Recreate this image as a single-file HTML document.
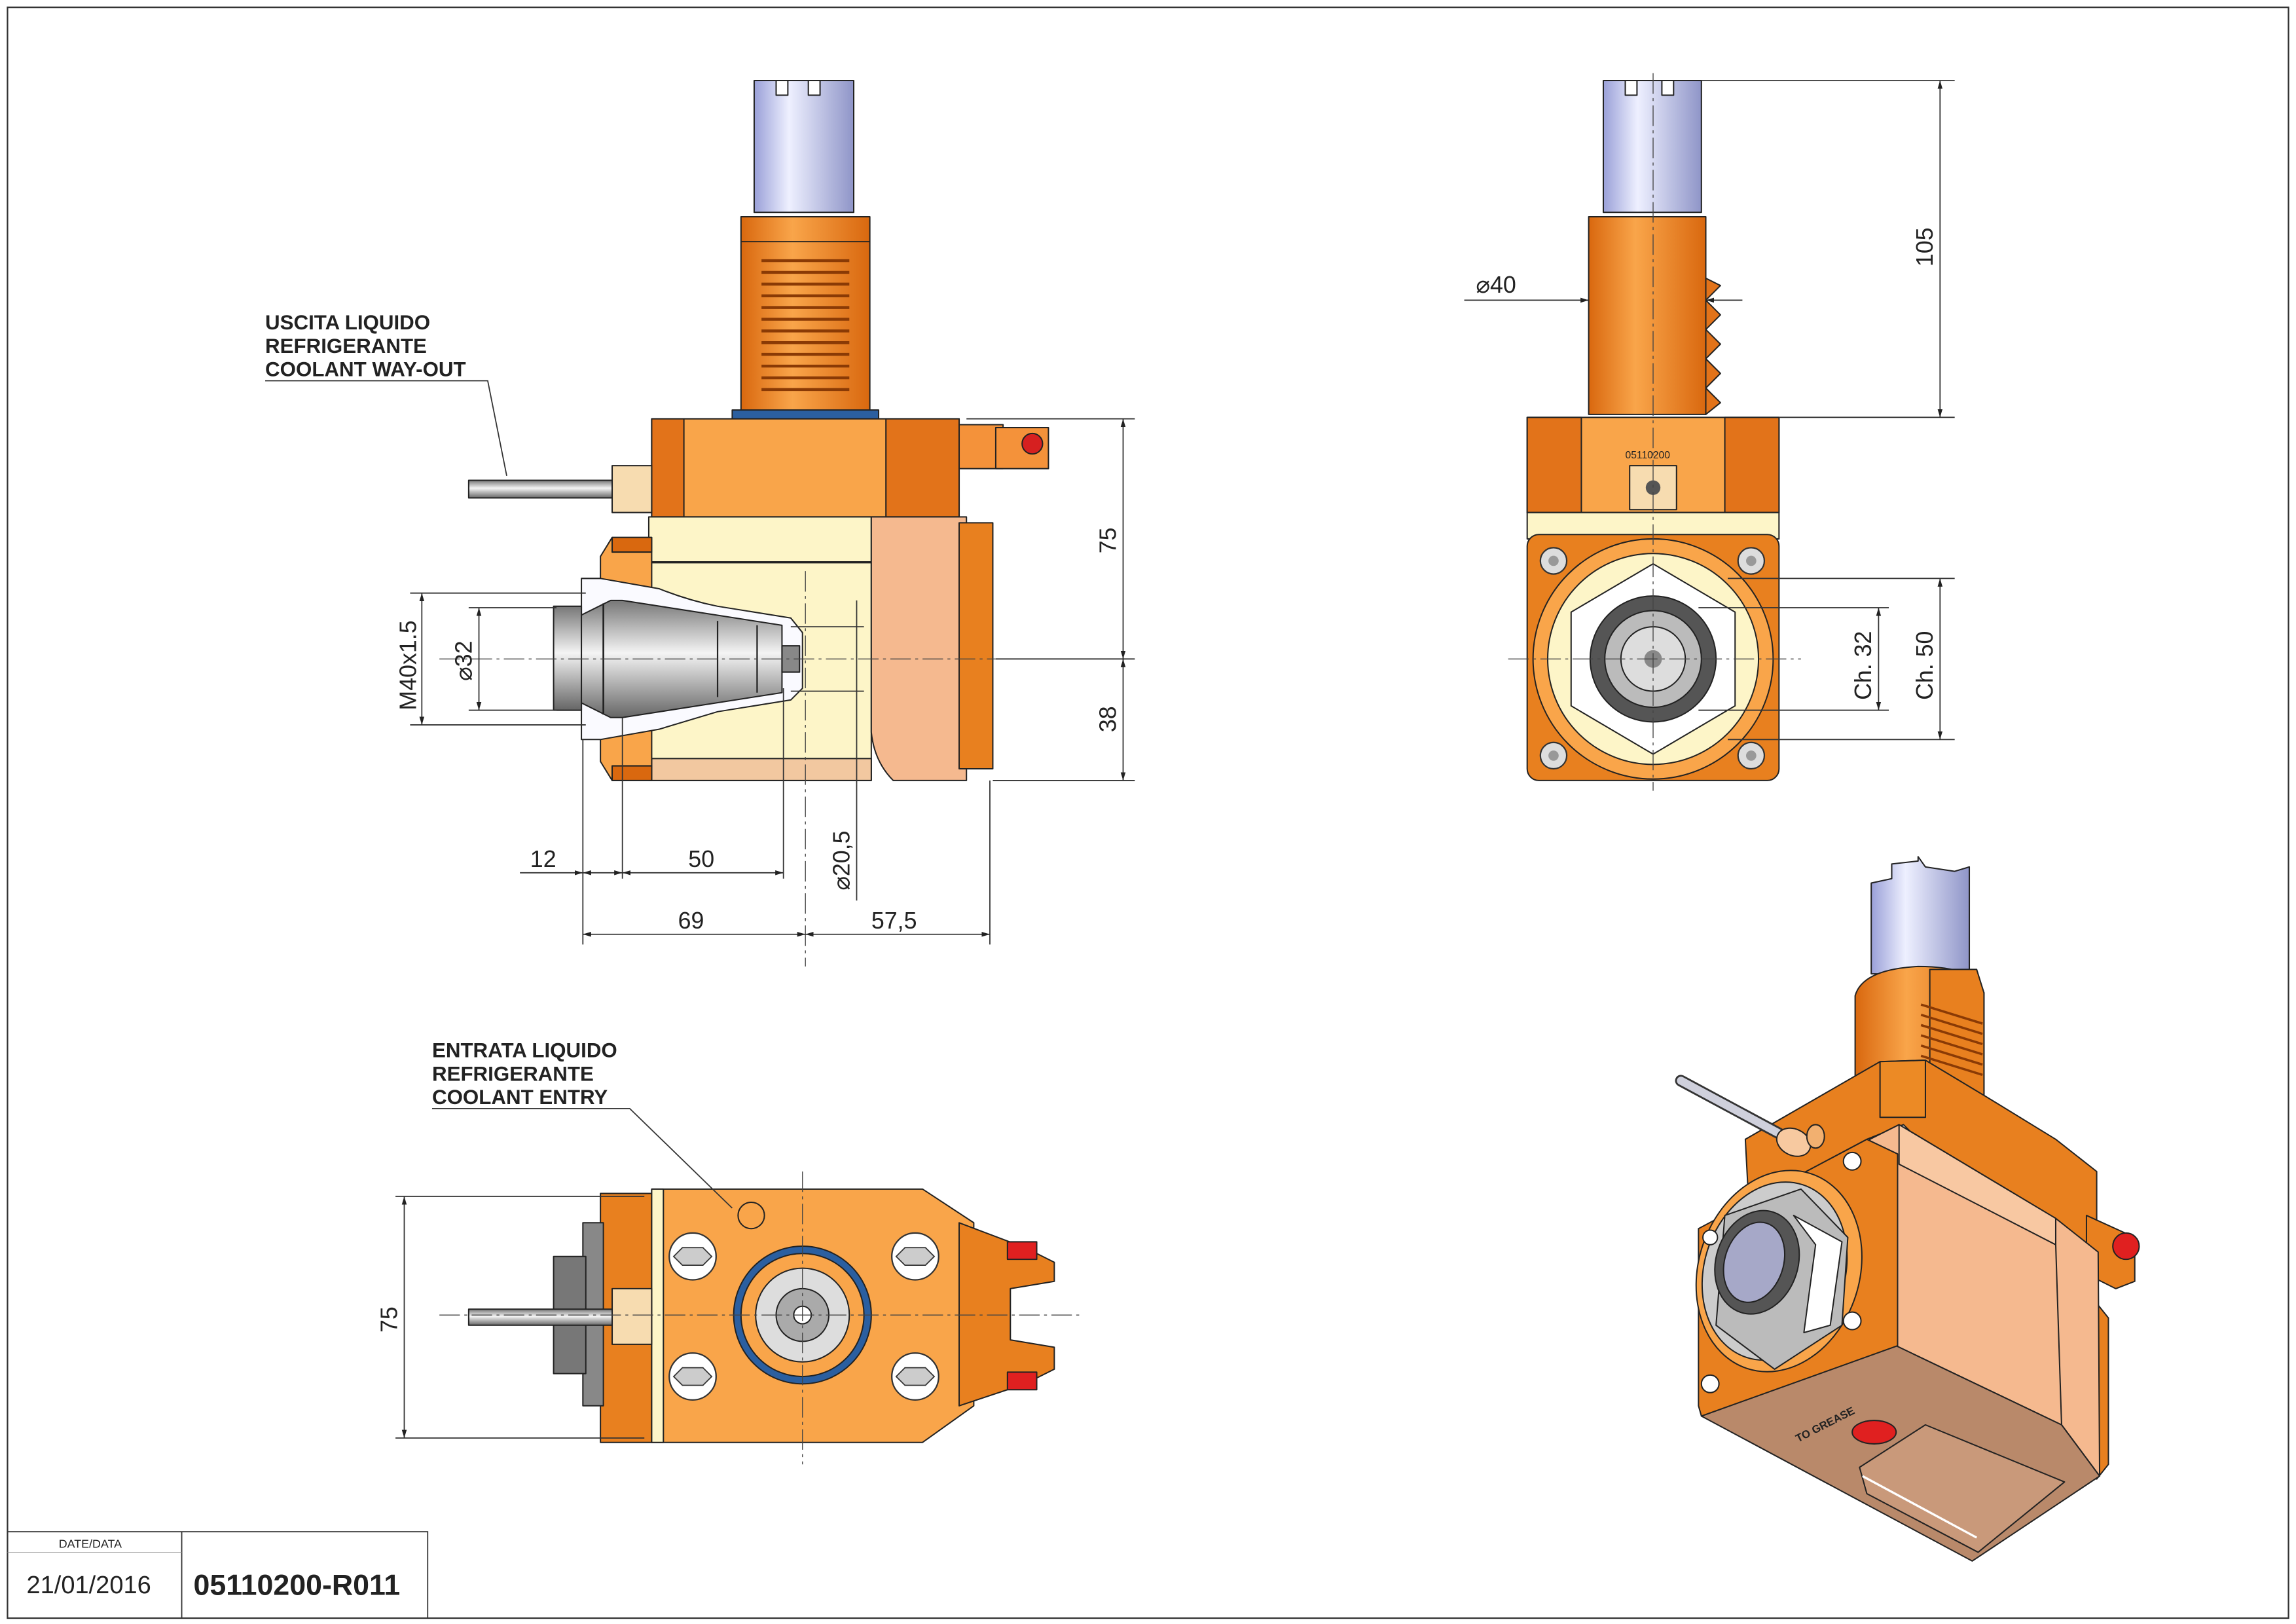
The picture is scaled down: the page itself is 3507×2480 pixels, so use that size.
<!DOCTYPE html>
<html><head><meta charset="utf-8"><style>
html,body{margin:0;padding:0;background:#fff;}
svg{display:block;}
text{font-family:"Liberation Sans",sans-serif;fill:#222;}
.d{stroke:#333;stroke-width:0.8;fill:none;}
.c{stroke:#444;stroke-width:0.6;fill:none;stroke-dasharray:14 3 2 3;}
.o{stroke:#222;stroke-width:0.9;stroke-linejoin:round;}
</style></head><body>
<svg width="3507" height="2480" viewBox="0 0 1568 1109" xmlns="http://www.w3.org/2000/svg">
<defs>
<marker id="a" viewBox="0 0 10 10" refX="10" refY="5" markerWidth="7" markerHeight="7" orient="auto-start-reverse"><path d="M0,2 L10,5 L0,8z" fill="#222"/></marker>
<linearGradient id="sh" x1="0" x2="1"><stop offset="0" stop-color="#9aa0d8"/><stop offset="0.35" stop-color="#eef0ff"/><stop offset="1" stop-color="#8f95c8"/></linearGradient>
<linearGradient id="ng" x1="0" x2="1"><stop offset="0" stop-color="#d9680f"/><stop offset="0.4" stop-color="#f9a54a"/><stop offset="1" stop-color="#d9680f"/></linearGradient>
<linearGradient id="cg" x1="0" x2="0" y1="0" y2="1"><stop offset="0" stop-color="#777"/><stop offset="0.45" stop-color="#f4f4f4"/><stop offset="1" stop-color="#666"/></linearGradient>
</defs>
<rect width="1568" height="1109" fill="#fff"/>
<rect x="5" y="5" width="1558" height="1100" fill="none" stroke="#333" stroke-width="1"/>

<!-- title block -->
<rect x="5" y="1046" width="287" height="59" fill="none" stroke="#333" stroke-width="0.8"/>
<line x1="124" y1="1046" x2="124" y2="1105" stroke="#333" stroke-width="0.8"/>
<line x1="5" y1="1060" x2="124" y2="1060" stroke="#999" stroke-width="0.4"/>
<text x="40" y="1057" font-size="8">DATE/DATA</text>
<text x="18" y="1088" font-size="17">21/01/2016</text>
<text x="132" y="1089" font-size="20" font-weight="bold">05110200-R011</text>

<!-- ============ FRONT VIEW ============ -->
<rect x="515" y="55" width="68" height="90" fill="url(#sh)" class="o"/>
<rect x="530" y="55" width="8" height="10" fill="#fff" class="o"/><rect x="552" y="55" width="8" height="10" fill="#fff" class="o"/>
<rect x="506" y="148" width="88" height="135" fill="url(#ng)" class="o"/>
<line x1="506" y1="165" x2="594" y2="165" stroke="#222" stroke-width="0.8"/>
<g stroke="#8a3a05" stroke-width="2">
<line x1="520" y1="178" x2="580" y2="178"/><line x1="520" y1="186" x2="580" y2="186"/><line x1="520" y1="194" x2="580" y2="194"/><line x1="520" y1="202" x2="580" y2="202"/><line x1="520" y1="210" x2="580" y2="210"/><line x1="520" y1="218" x2="580" y2="218"/><line x1="520" y1="226" x2="580" y2="226"/><line x1="520" y1="234" x2="580" y2="234"/><line x1="520" y1="242" x2="580" y2="242"/><line x1="520" y1="250" x2="580" y2="250"/><line x1="520" y1="258" x2="580" y2="258"/><line x1="520" y1="266" x2="580" y2="266"/></g>
<rect x="500" y="280" width="100" height="6" fill="#2b5fa0" class="o"/>
<rect x="445" y="286" width="210" height="67" fill="#f9a54a" class="o"/>
<rect x="445" y="286" width="22" height="67" fill="#e2731a" class="o"/>
<rect x="605" y="286" width="50" height="67" fill="#e2731a" class="o"/>
<rect x="655" y="290" width="30" height="30" fill="#f4923a" class="o"/>
<rect x="680" y="292" width="36" height="28" fill="#f4923a" class="o"/>
<circle cx="705" cy="303" r="7" fill="#d62020" class="o"/>
<rect x="443" y="353" width="152" height="180" fill="#fdf5c8" class="o"/>
<line x1="445" y1="384" x2="595" y2="384" stroke="#222" stroke-width="1.5"/>
<rect x="445" y="518" width="150" height="15" fill="#f2c8a0" class="o"/>
<path d="M595,353 L660,353 L660,533 L610,533 Q597,520 595,500Z" fill="#f5b98f" class="o"/>
<rect x="655" y="357" width="23" height="168" fill="#e8801f" class="o"/>
<path d="M418,367 L445,367 L445,533 L418,533 L410,520 L410,380Z" fill="#f9a54a" class="o"/>
<rect x="418" y="367" width="27" height="10" fill="#d9680f" class="o"/><rect x="418" y="523" width="27" height="10" fill="#d9680f" class="o"/>
<path d="M397,395 L410,395 L450,402 Q470,410 490,414 L540,422 L548,432 L548,470 L540,478 L490,486 Q470,492 450,498 L410,505 L397,505Z" fill="#fafaff" class="o"/>
<rect x="378" y="414" width="19" height="71" fill="url(#cg)" class="o"/>
<path d="M397,420 L417,410 L425,410 L534,427 L534,473 L425,490 L417,490 L397,480Z" fill="url(#cg)" class="o"/>
<line x1="490" y1="424" x2="490" y2="476" stroke="#222" stroke-width="1"/>
<line x1="517" y1="427" x2="517" y2="473" stroke="#222" stroke-width="1"/>
<line x1="412" y1="412" x2="412" y2="488" stroke="#222" stroke-width="1.2"/>
<rect x="534" y="441" width="12" height="18" fill="#888" class="o"/>
<rect x="320" y="328" width="100" height="12" fill="url(#cg)" class="o"/>
<rect x="418" y="318" width="27" height="32" fill="#f7dcb0" class="o"/>
<line x1="300" y1="450" x2="700" y2="450" class="c"/>
<line x1="550" y1="390" x2="550" y2="660" class="c"/>
<!-- dims front -->
<line x1="660" y1="286" x2="775" y2="286" class="d"/><line x1="680" y1="450" x2="775" y2="450" class="d"/><line x1="678" y1="533" x2="775" y2="533" class="d"/>
<line x1="767" y1="286" x2="767" y2="450" class="d" marker-start="url(#a)" marker-end="url(#a)"/>
<line x1="767" y1="450" x2="767" y2="533" class="d" marker-start="url(#a)" marker-end="url(#a)"/>
<text transform="translate(762,378) rotate(-90)" font-size="16">75</text>
<text transform="translate(762,500) rotate(-90)" font-size="16">38</text>
<line x1="280" y1="405" x2="400" y2="405" class="d"/><line x1="280" y1="495" x2="400" y2="495" class="d"/>
<line x1="288" y1="405" x2="288" y2="495" class="d" marker-start="url(#a)" marker-end="url(#a)"/>
<text transform="translate(284,485) rotate(-90)" font-size="16">M40x1.5</text>
<line x1="320" y1="415" x2="380" y2="415" class="d"/><line x1="320" y1="485" x2="380" y2="485" class="d"/>
<line x1="327" y1="415" x2="327" y2="485" class="d" marker-start="url(#a)" marker-end="url(#a)"/>
<text transform="translate(322,465) rotate(-90)" font-size="16">⌀32</text>
<line x1="398" y1="505" x2="398" y2="645" class="d"/><line x1="425" y1="490" x2="425" y2="600" class="d"/><line x1="535" y1="470" x2="535" y2="600" class="d"/><line x1="676" y1="533" x2="676" y2="645" class="d"/>
<line x1="355" y1="596" x2="398" y2="596" class="d" marker-end="url(#a)"/><line x1="398" y1="596" x2="425" y2="596" class="d" marker-start="url(#a)" marker-end="url(#a)"/>
<line x1="425" y1="596" x2="535" y2="596" class="d" marker-start="url(#a)" marker-end="url(#a)"/>
<text x="362" y="592" font-size="16">12</text><text x="470" y="592" font-size="16">50</text>
<line x1="398" y1="638" x2="550" y2="638" class="d" marker-start="url(#a)" marker-end="url(#a)"/>
<line x1="550" y1="638" x2="676" y2="638" class="d" marker-start="url(#a)" marker-end="url(#a)"/>
<text x="463" y="634" font-size="16">69</text><text x="595" y="634" font-size="16">57,5</text>
<line x1="585" y1="410" x2="585" y2="615" class="d"/>
<line x1="540" y1="428" x2="590" y2="428" class="d"/><line x1="540" y1="472" x2="590" y2="472" class="d"/>
<text transform="translate(580,608) rotate(-90)" font-size="16">⌀20,5</text>
<text x="181" y="225" font-size="14" font-weight="bold">USCITA LIQUIDO</text>
<text x="181" y="241" font-size="14" font-weight="bold">REFRIGERANTE</text>
<text x="181" y="257" font-size="14" font-weight="bold">COOLANT WAY-OUT</text>
<polyline points="181,260 333,260 346,325" class="d"/>

<!-- ============ SIDE VIEW ============ -->
<rect x="1095" y="55" width="67" height="90" fill="url(#sh)" class="o"/>
<rect x="1110" y="55" width="8" height="10" fill="#fff" class="o"/><rect x="1135" y="55" width="8" height="10" fill="#fff" class="o"/>
<rect x="1085" y="148" width="80" height="135" fill="url(#ng)" class="o"/>
<path d="M1165,190 L1175,195 L1165,205 L1175,215 L1165,225 L1175,235 L1165,245 L1175,255 L1165,265 L1175,275 L1165,283Z" fill="#e2731a" class="o"/>
<rect x="1043" y="285" width="172" height="65" fill="#f9a54a" class="o"/>
<rect x="1043" y="285" width="37" height="65" fill="#e2731a" class="o"/><rect x="1178" y="285" width="37" height="65" fill="#e2731a" class="o"/>
<rect x="1113" y="318" width="32" height="30" fill="#f7dcb0" class="o"/><circle cx="1129" cy="333" r="5" fill="#555"/>
<text x="1110" y="313" font-size="7">05110200</text>
<rect x="1043" y="350" width="172" height="18" fill="#fdf5c8" class="o"/>
<rect x="1043" y="365" width="172" height="168" rx="8" fill="#e8801f" class="o"/>
<circle cx="1129" cy="450" r="82" fill="#f9a54a" class="o"/>
<circle cx="1129" cy="450" r="72" fill="#fdf5c8" class="o"/>
<polygon points="1129,385 1185,418 1185,482 1129,515 1073,482 1073,418" fill="#fff" class="o"/>
<circle cx="1129" cy="450" r="43" fill="#555" class="o"/>
<circle cx="1129" cy="450" r="33" fill="#bbb" class="o"/>
<circle cx="1129" cy="450" r="22" fill="#ddd" class="o"/>
<circle cx="1129" cy="450" r="6" fill="#888"/>
<g fill="#ddd" stroke="#333" stroke-width="1"><circle cx="1061" cy="383" r="9"/><circle cx="1196" cy="383" r="9"/><circle cx="1061" cy="516" r="9"/><circle cx="1196" cy="516" r="9"/></g>
<g fill="#999"><circle cx="1061" cy="383" r="3.5"/><circle cx="1196" cy="383" r="3.5"/><circle cx="1061" cy="516" r="3.5"/><circle cx="1196" cy="516" r="3.5"/></g>
<line x1="1129" y1="50" x2="1129" y2="540" class="c"/><line x1="1030" y1="450" x2="1230" y2="450" class="c"/>
<line x1="1162" y1="55" x2="1335" y2="55" class="d"/><line x1="1215" y1="285" x2="1335" y2="285" class="d"/>
<line x1="1325" y1="55" x2="1325" y2="285" class="d" marker-start="url(#a)" marker-end="url(#a)"/>
<text transform="translate(1320,182) rotate(-90)" font-size="16">105</text>
<line x1="1000" y1="205" x2="1085" y2="205" class="d" marker-end="url(#a)"/><line x1="1190" y1="205" x2="1165" y2="205" class="d" marker-end="url(#a)"/>
<text x="1008" y="200" font-size="16">⌀40</text>
<line x1="1180" y1="395" x2="1335" y2="395" class="d"/><line x1="1180" y1="505" x2="1335" y2="505" class="d"/>
<line x1="1160" y1="415" x2="1290" y2="415" class="d"/><line x1="1160" y1="485" x2="1290" y2="485" class="d"/>
<line x1="1283" y1="415" x2="1283" y2="485" class="d" marker-start="url(#a)" marker-end="url(#a)"/>
<line x1="1325" y1="395" x2="1325" y2="505" class="d" marker-start="url(#a)" marker-end="url(#a)"/>
<text transform="translate(1278,478) rotate(-90)" font-size="16">Ch. 32</text>
<text transform="translate(1320,478) rotate(-90)" font-size="16">Ch. 50</text>

<!-- ============ TOP VIEW ============ -->
<rect x="410" y="815" width="35" height="170" fill="#e8801f" class="o"/>
<rect x="398" y="835" width="14" height="125" fill="#888" class="o"/>
<rect x="378" y="858" width="22" height="80" fill="#777" class="o"/>
<path d="M445,812 L630,812 L665,835 L665,960 L630,985 L445,985Z" fill="#f9a54a" class="o"/>
<rect x="445" y="812" width="8" height="173" fill="#fdf5c8" class="o"/>
<path d="M655,835 L700,852 L720,862 L720,875 L690,880 L690,915 L720,920 L720,935 L700,945 L655,960Z" fill="#e8801f" class="o"/>
<g fill="#e02020" class="o"><rect x="688" y="848" width="20" height="12"/><rect x="688" y="937" width="20" height="12"/></g>
<rect x="320" y="894" width="100" height="11" fill="url(#cg)" class="o"/>
<rect x="418" y="880" width="27" height="38" fill="#f7dcb0" class="o"/>
<circle cx="513" cy="830" r="9" fill="#f9a54a" class="o"/>
<circle cx="548" cy="898" r="47" fill="#2b5fa0" class="o"/>
<circle cx="548" cy="898" r="42" fill="#f9a54a" class="o"/>
<circle cx="548" cy="898" r="32" fill="#ddd" class="o"/>
<circle cx="548" cy="898" r="18" fill="#aaa" class="o"/>
<circle cx="548" cy="898" r="6" fill="#fff" class="o"/>
<g fill="#fff" stroke="#333" stroke-width="1"><circle cx="473" cy="858" r="16"/><circle cx="625" cy="858" r="16"/><circle cx="473" cy="940" r="16"/><circle cx="625" cy="940" r="16"/></g>
<g fill="#ccc" stroke="#333" stroke-width="0.8"><polygon points="466,852 480,852 486,858 480,864 466,864 460,858"/><polygon points="618,852 632,852 638,858 632,864 618,864 612,858"/><polygon points="466,934 480,934 486,940 480,946 466,946 460,940"/><polygon points="618,934 632,934 638,940 632,946 618,946 612,940"/></g>
<line x1="300" y1="898" x2="740" y2="898" class="c"/><line x1="548" y1="800" x2="548" y2="1000" class="c"/>
<line x1="270" y1="817" x2="440" y2="817" class="d"/><line x1="270" y1="982" x2="440" y2="982" class="d"/>
<line x1="276" y1="817" x2="276" y2="982" class="d" marker-start="url(#a)" marker-end="url(#a)"/>
<text transform="translate(271,910) rotate(-90)" font-size="16">75</text>
<text x="295" y="722" font-size="14" font-weight="bold">ENTRATA LIQUIDO</text>
<text x="295" y="738" font-size="14" font-weight="bold">REFRIGERANTE</text>
<text x="295" y="754" font-size="14" font-weight="bold">COOLANT ENTRY</text>
<polyline points="295,757 430,757 500,825" class="d"/>

<!-- ============ ISO VIEW ============ -->
<!-- shaft -->
<path d="M1278,603 L1292,600 L1292,590 L1310,588 L1310,585 L1315,592 L1335,595 L1345,592 L1345,665 L1278,665Z" fill="url(#sh)" class="o"/>
<!-- neck -->
<path d="M1267,680 Q1272,662 1310,660 Q1350,660 1355,678 L1355,748 L1267,748Z" fill="url(#ng)" class="o"/>
<path d="M1318,662 L1350,662 L1355,678 L1355,748 L1318,748Z" fill="#e8801f" class="o"/>
<g stroke="#8a3a05" stroke-width="1.6"><line x1="1312" y1="686" x2="1354" y2="699"/><line x1="1312" y1="693" x2="1354" y2="706"/><line x1="1312" y1="700" x2="1354" y2="713"/><line x1="1312" y1="707" x2="1354" y2="720"/><line x1="1312" y1="714" x2="1354" y2="727"/><line x1="1312" y1="721" x2="1354" y2="734"/></g>
<!-- upper body -->
<path d="M1192,778 L1284,725 L1315,724 L1355,748 L1404,778 L1432,800 L1432,880 L1405,872 L1300,768 L1275,778 L1195,835Z" fill="#e8801f" class="o"/>
<path d="M1284,725 L1315,724 L1315,763 L1284,763Z" fill="#ec8a25" class="o"/>
<!-- red bracket -->
<path d="M1425,830 L1458,845 L1458,875 L1445,880 L1425,870Z" fill="#e8801f" class="o"/>
<circle cx="1452" cy="851" r="9" fill="#e02020" class="o"/>
<!-- right side box lower part -->
<path d="M1432,890 L1440,900 L1440,1000 L1432,1010Z" fill="#e8801f" class="o"/>
<!-- salmon box -->
<path d="M1277,778 L1297,768 L1404,832 L1433,855 L1434,1008 L1408,973 L1295,919Z" fill="#f5b98f" class="o"/>
<path d="M1297,768 L1297,795 L1404,850 L1404,832Z" fill="#f8c8a2" class="o"/>
<line x1="1404" y1="850" x2="1408" y2="973" stroke="#222" stroke-width="0.9"/>
<!-- bottom face -->
<path d="M1162,967 L1295,919 L1408,973 L1434,1008 L1347,1066 Z" fill="#b9896a" class="o"/>
<path d="M1270,1002 L1315,973 L1410,1012 L1351,1060 L1275,1020 Z" fill="#c9997a" class="o"/>
<path d="M1272,1008 L1350,1050" stroke="#fff" stroke-width="1.5" fill="none"/>
<ellipse cx="1280" cy="978" rx="15" ry="8" fill="#e02020" class="o"/>
<text transform="translate(1228,985) rotate(-27)" font-size="7.5" font-weight="bold">TO GREASE</text>
<!-- front face -->
<path d="M1160,839 L1275,778 L1296,788 L1296,919 L1162,967 L1160,960Z" fill="#e8801f" class="o"/>
<ellipse cx="1215" cy="868" rx="55" ry="70" transform="rotate(18 1215 868)" fill="#f9a54a" class="o"/>
<ellipse cx="1212" cy="868" rx="48" ry="62" transform="rotate(18 1212 868)" fill="#ccc" class="o"/>
<polygon points="1178,830 1230,812 1262,845 1258,905 1212,935 1172,905" fill="#bbb" class="o"/>
<polygon points="1225,830 1258,848 1250,905 1232,910 1240,850" fill="#fff" class="o"/>
<ellipse cx="1200" cy="862" rx="28" ry="36" transform="rotate(18 1200 862)" fill="#555" class="o"/>
<ellipse cx="1198" cy="862" rx="20" ry="28" transform="rotate(18 1198 862)" fill="#a6a8c8" class="o"/>
<g fill="#fff" stroke="#222" stroke-width="0.9"><circle cx="1265" cy="793" r="6"/><circle cx="1265" cy="902" r="6"/><circle cx="1168" cy="945" r="6"/><circle cx="1168" cy="845" r="5"/></g>
<!-- pipe -->
<line x1="1148" y1="738" x2="1215" y2="774" stroke="#333" stroke-width="8" stroke-linecap="round"/>
<line x1="1148" y1="738" x2="1215" y2="774" stroke="#cfd0dc" stroke-width="5.5" stroke-linecap="round"/>
<ellipse cx="1225" cy="780" rx="12" ry="9" transform="rotate(25 1225 780)" fill="#f7c9a0" class="o"/>
<ellipse cx="1240" cy="776" rx="6" ry="8" fill="#f2b070" class="o"/>
</svg>
</body></html>
